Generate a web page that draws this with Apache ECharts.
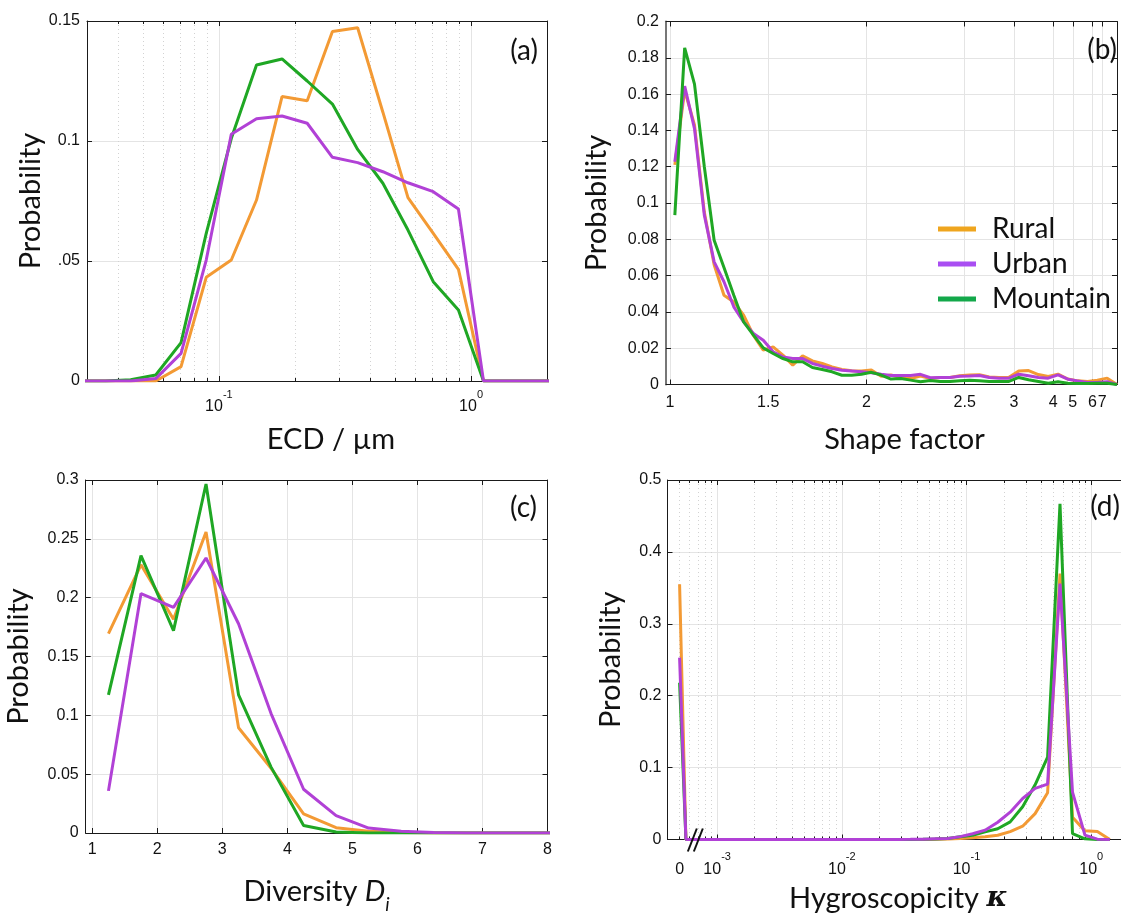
<!DOCTYPE html>
<html>
<head>
<meta charset="utf-8">
<script src="https://cdn.jsdelivr.net/npm/echarts@6/dist/echarts.min.js"></script>
<style>
  html, body { margin: 0; padding: 0; background: #fff; }
  #chart { width: 1121px; height: 915px; }
</style>
</head>
<body>
<div id="chart"></div>
<script>
// ---------------- data ----------------
const SITES = ['Rural', 'Urban', 'Mountain'];

// (a) equivalent circle diameter, log-bin centres in µm
const ECD_UM = [0.0282, 0.0355, 0.0447, 0.0562, 0.0708, 0.0891, 0.112, 0.141, 0.178, 0.224,
  0.282, 0.355, 0.447, 0.562, 0.708, 0.891, 1.12, 1.41, 1.78, 2.24];
const ECD_RURAL = [0, 0, 0, 0, 0.006, 0.0432, 0.0504, 0.0754, 0.1185, 0.1168,
  0.1456, 0.1472, 0.112, 0.0764, 0.0615, 0.0465, 0, 0, 0, 0];
const ECD_URBAN = [0, 0, 0, 0.001, 0.0115, 0.0504, 0.1028, 0.1093, 0.1104, 0.1074,
  0.0932, 0.091, 0.0872, 0.0826, 0.0789, 0.0717, 0, 0, 0, 0];
const ECD_MOUNTAIN = [0, 0, 0.0005, 0.0025, 0.016, 0.0615, 0.101, 0.1317, 0.1342, 0.125,
  0.1154, 0.0965, 0.0824, 0.0629, 0.0414, 0.0296, 0, 0, 0, 0];
const ECD_TICKS = [0.1, 1];

// (b) shape factor: 46 bins, drawn at equal width; tick labels sit on bin edges
const SHAPE_TICK_LABELS = ['1', '1.5', '2', '2.5', '3', '4', '5', '6', '7'];
const SHAPE_TICK_BIN = [0, 10, 20, 30, 35, 39, 41, 43, 44];
const SHAPE_RURAL = [0.121, 0.162, 0.143, 0.095, 0.066, 0.0492, 0.0455, 0.0382, 0.027, 0.0189,
  0.0207, 0.0162, 0.0107, 0.0158, 0.013, 0.0116, 0.0097, 0.0083, 0.0076, 0.0074,
  0.008, 0.0046, 0.0052, 0.0039, 0.0033, 0.0046, 0.0033, 0.0039, 0.0039, 0.0048,
  0.0052, 0.0054, 0.0042, 0.0038, 0.004, 0.0075, 0.0077, 0.0055, 0.0044, 0.0057,
  0.003, 0.002, 0.0017, 0.0024, 0.0035, 0];
const SHAPE_URBAN = [0.1227, 0.1644, 0.141, 0.0933, 0.0676, 0.0566, 0.0428, 0.0345, 0.0281, 0.0244,
  0.018, 0.0152, 0.0143, 0.0143, 0.0116, 0.0101, 0.0088, 0.0079, 0.0075, 0.007,
  0.0065, 0.0056, 0.005, 0.005, 0.005, 0.0056, 0.0037, 0.0039, 0.0039, 0.0045,
  0.0047, 0.005, 0.0039, 0.0035, 0.0035, 0.0057, 0.0048, 0.0039, 0.0035, 0.0053,
  0.0029, 0.002, 0.0011, 0.0011, 0.0015, 0];
const SHAPE_MOUNTAIN = [0.0933, 0.1855, 0.1655, 0.12, 0.0795, 0.0645, 0.0492, 0.0345, 0.0272, 0.0202,
  0.0171, 0.0143, 0.0125, 0.0125, 0.0094, 0.0083, 0.007, 0.0051, 0.0051, 0.0056,
  0.0067, 0.0052, 0.003, 0.0033, 0.0024, 0.0015, 0.0022, 0.0017, 0.0017, 0.0021,
  0.0024, 0.0021, 0.0017, 0.0017, 0.0017, 0.0039, 0.0026, 0.0017, 0.0007, 0.0015,
  0.0007, 0.0006, 0.0006, 0.0007, 0.0007, 0];

// (c) diversity
const DIVERSITY = [1.25, 1.75, 2.25, 2.75, 3.25, 3.75, 4.25, 4.75, 5.25, 5.75, 6.25, 6.75, 7.25, 7.75, 8.25];
const DIV_RURAL = [0.1694, 0.2279, 0.1817, 0.2558, 0.0895, 0.055, 0.0162, 0.0045, 0.0014, 0.0005, 0, 0, 0, 0, 0];
const DIV_URBAN = [0.0358, 0.2035, 0.1918, 0.2337, 0.1778, 0.1015, 0.0372, 0.0148, 0.0042, 0.0014, 0.0005, 0, 0, 0, 0];
const DIV_MOUNTAIN = [0.1174, 0.2357, 0.172, 0.2966, 0.1174, 0.056, 0.0064, 0.0008, 0, 0, 0, 0, 0, 0, 0];
const DIVERSITY_TICKS = [1, 2, 3, 4, 5, 6, 7, 8];

// (d) hygroscopicity kappa: a kappa = 0 bin, then log bins
const KAPPA_ZERO_AT = 5e-4;   // where the kappa = 0 bin is drawn on the broken axis
const KAPPA_BREAK_AT = 6.75e-4;
const KAPPA_ZERO_RURAL = 0.355, KAPPA_ZERO_URBAN = 0.253, KAPPA_ZERO_MOUNTAIN = 0.218;
const KAPPA = [5.62e-4, 7.08e-4, 8.91e-4, 1.12e-3, 1.41e-3, 1.78e-3, 2.24e-3, 2.82e-3, 3.55e-3,
  4.47e-3, 5.62e-3, 7.08e-3, 8.91e-3, 0.0112, 0.0141, 0.0178, 0.0224, 0.0282,
  0.0355, 0.0447, 0.0562, 0.0708, 0.0891, 0.112, 0.141, 0.178, 0.224, 0.282,
  0.355, 0.447, 0.562, 0.708, 0.891, 1.12, 1.41];
const KAPPA_RURAL = [0, 0, 0, 0, 0, 0, 0, 0, 0, 0, 0, 0, 0, 0, 0, 0, 0, 0,
  0, 0, 0.0003, 0.0007, 0.0014, 0.0023, 0.0037, 0.006, 0.011, 0.0185, 0.036, 0.065, 0.37, 0.031, 0.012, 0.011, 0];
const KAPPA_URBAN = [0, 0, 0, 0, 0, 0, 0, 0, 0, 0, 0, 0, 0, 0, 0, 0, 0, 0,
  0.0002, 0.0005, 0.001, 0.0015, 0.004, 0.008, 0.013, 0.024, 0.038, 0.057, 0.071, 0.077, 0.356, 0.066, 0.006, 0.0005, 0];
const KAPPA_MOUNTAIN = [0, 0, 0, 0, 0, 0, 0, 0, 0, 0, 0, 0, 0, 0, 0, 0, 0, 0,
  0, 0.0003, 0.0007, 0.0014, 0.0037, 0.006, 0.0106, 0.015, 0.0245, 0.0456, 0.076, 0.1146, 0.467, 0.0083, 0.001, 0, 0];
const KAPPA_TICKS = [0.001, 0.01, 0.1, 1];

// ---------------- styling ----------------
const LINE_COLORS = { Rural: '#F39A34', Urban: '#B141D6', Mountain: '#1FA724' };
const LEGEND_COLORS = { Rural: '#EFA51E', Urban: '#A94EF2', Mountain: '#13A84A' };
const TICK_FONT = '"Liberation Sans", Arial, sans-serif';
const TITLE_FONT = 'Lato, "Open Sans", sans-serif';
const AXIS_COLOR = '#1a1a1a';
const GRID_COLOR = '#E4E4E4';
const MINOR_COLOR = '#D2D2D2';

const TICK_RICH = {
  b: { fontFamily: TICK_FONT, fontSize: 16, color: '#111', lineHeight: 26, verticalAlign: 'bottom' },
  sup: { fontFamily: TICK_FONT, fontSize: 11, color: '#111', verticalAlign: 'top' }
};
const NAME_RICH = {
  it: { fontFamily: TITLE_FONT, fontSize: 29, fontStyle: 'italic', color: '#111' },
  sub: { fontFamily: TITLE_FONT, fontSize: 19, fontStyle: 'italic', color: '#111', verticalAlign: 'bottom', padding: [0, 0, -8, 0] },
  kap: { fontFamily: '"DejaVu Serif", serif', fontSize: 28, fontStyle: 'italic', fontWeight: 'bold', color: '#111' }
};

const log10 = Math.log10;
function minorLogs(fromExp, toExp) {
  const out = [];
  for (let e = fromExp; e <= toExp; e++) {
    for (let m = 2; m <= 9; m++) out.push(log10(m * Math.pow(10, e)));
  }
  return out;
}
function powLabel(v) {
  if (Math.abs(v - log10(KAPPA_ZERO_AT)) < 1e-6) return '{b|0}';
  return '{b|10}{sup|' + Math.round(v) + '}';
}

const xAxisList = [];
const yAxisList = [];

function addX(gi, o) {
  const idx = xAxisList.length;
  const base = { gridIndex: gi, type: 'value', min: o.min, max: o.max };
  const line = { show: true, onZero: false, lineStyle: { color: AXIS_COLOR, width: 1 } };
  const tick = { show: true, inside: true, length: 5, customValues: o.ticks, lineStyle: { color: AXIS_COLOR } };
  xAxisList.push({
    ...base, position: 'bottom',
    name: o.name, nameLocation: 'middle', nameGap: o.nameGap,
    nameTextStyle: { fontFamily: TITLE_FONT, fontSize: 29, color: '#111', rich: NAME_RICH, padding: o.namePad || 0 },
    axisLine: line, axisTick: tick,
    axisLabel: {
      show: true, customValues: o.labels || o.ticks, margin: o.margin, formatter: o.formatter,
      fontFamily: TICK_FONT, fontSize: 16, color: '#111', rich: TICK_RICH
    },
    splitLine: { show: true, lineStyle: { color: GRID_COLOR, width: 1 } }
  });
  xAxisList.push({
    ...base, position: 'top', axisLine: line, axisTick: tick,
    axisLabel: { show: false }, splitLine: { show: false }
  });
  if (o.minor) {
    const mtick = { show: true, inside: true, length: 3, customValues: o.minor, lineStyle: { color: AXIS_COLOR } };
    xAxisList.push({
      ...base, position: 'bottom', axisLine: { show: false, onZero: false }, axisTick: mtick,
      axisLabel: { show: false },
      splitLine: { show: true, lineStyle: { color: MINOR_COLOR, width: 1, type: [1, 3] } }
    });
    xAxisList.push({
      ...base, position: 'top', axisLine: { show: false, onZero: false }, axisTick: mtick,
      axisLabel: { show: false }, splitLine: { show: false }
    });
  }
  return idx;
}

function addY(gi, o) {
  const idx = yAxisList.length;
  const base = { gridIndex: gi, type: 'value', min: o.min, max: o.max, interval: o.interval };
  const tick = { show: true, inside: true, length: 5, lineStyle: { color: AXIS_COLOR } };
  yAxisList.push({
    ...base, position: 'left',
    name: 'Probability', nameLocation: 'middle', nameGap: o.nameGap,
    nameTextStyle: { fontFamily: TITLE_FONT, fontSize: 29, color: '#111' },
    axisLine: { show: true, onZero: false, lineStyle: { color: o.lineColor || AXIS_COLOR, width: o.lineWidth || 1 } },
    axisTick: tick,
    axisLabel: { show: true, margin: o.margin, formatter: o.formatter, fontFamily: TICK_FONT, fontSize: 16, color: '#111' },
    splitLine: { show: true, lineStyle: { color: GRID_COLOR, width: 1 } }
  });
  yAxisList.push({
    ...base, position: 'right',
    axisLine: { show: !o.noRight, onZero: false, lineStyle: { color: AXIS_COLOR, width: 1 } },
    axisTick: { ...tick, show: !o.noRight }, axisLabel: { show: false }, splitLine: { show: false }
  });
  return idx;
}

const grids = [
  { left: 87, top: 21, width: 460, height: 360 },          // (a)
  { left: 666, top: 21.5, width: 451, height: 363 },       // (b)
  { left: 85.7, top: 480, width: 461.8, height: 357.7 },   // (c)
  { left: 667.5, top: 480, width: 453.5, height: 359.5 }   // (d) cut at the right edge
];

// (a)
const axA = addX(0, {
  min: log10(0.03), max: log10(2), ticks: ECD_TICKS.map(log10), formatter: powLabel,
  minor: minorLogs(-2, -1), margin: 8, name: 'ECD / µm', nameGap: 44, namePad: [0, 0, 0, 28]
});
const ayA = addY(0, {
  min: 0, max: 0.15, interval: 0.05, margin: 7, nameGap: 41,
  formatter: v => (Math.abs(v - 0.05) < 1e-9 ? '.05' : String(+v.toFixed(2)))
});
// (b)
const axB = addX(1, {
  min: -0.4, max: 45.5, ticks: SHAPE_TICK_BIN, margin: 10,
  formatter: v => SHAPE_TICK_LABELS[SHAPE_TICK_BIN.indexOf(Math.round(v))],
  name: 'Shape factor', nameGap: 41, namePad: [0, 0, 0, 26]
});
const ayB = addY(1, { min: 0, max: 0.2, interval: 0.02, margin: 7, nameGap: 55, lineColor: '#777', lineWidth: 2 });
// (c)
const axC = addX(2, {
  min: 0.9, max: 8, ticks: DIVERSITY_TICKS, margin: 9,
  name: 'Diversity {it|D}{sub|i}', nameGap: 44
});
const ayC = addY(2, { min: 0, max: 0.3, interval: 0.05, margin: 7, nameGap: 53 });
// (d)
const axD = addX(3, {
  min: log10(4e-4), max: 0.239, ticks: KAPPA_TICKS.map(log10),
  labels: [log10(KAPPA_ZERO_AT)].concat(KAPPA_TICKS.map(log10)), formatter: powLabel,
  minor: minorLogs(-4, -1).filter(v => v > log10(4.5e-4)), margin: 12,
  name: 'Hygroscopicity {kap|κ}', nameGap: 45, namePad: [0, 0, 0, 8]
});
const ayD = addY(3, { min: 0, max: 0.5, interval: 0.1, margin: 6, nameGap: 42, noRight: true });

function lineSeries(name, xi, yi, data) {
  return {
    type: 'line', name: name, xAxisIndex: xi, yAxisIndex: yi, data: data,
    showSymbol: false, symbol: 'none', clip: true, animation: false,
    lineStyle: { width: 3, color: LINE_COLORS[name] }, itemStyle: { color: LINE_COLORS[name] },
    emphasis: { disabled: true }
  };
}
const pairs = (xs, ys) => xs.map((x, i) => [x, ys[i]]);
const ecdData = ys => pairs(ECD_UM.map(log10), ys);
const shapeData = ys => ys.map((y, i) => [i + 0.5, y]);
const kappaData = (zero, ys) => [[log10(KAPPA_ZERO_AT), zero]].concat(pairs(KAPPA.map(log10), ys));

const series = [
  lineSeries('Rural', axA, ayA, ecdData(ECD_RURAL)),
  lineSeries('Mountain', axA, ayA, ecdData(ECD_MOUNTAIN)),
  lineSeries('Urban', axA, ayA, ecdData(ECD_URBAN)),

  lineSeries('Rural', axB, ayB, shapeData(SHAPE_RURAL)),
  lineSeries('Urban', axB, ayB, shapeData(SHAPE_URBAN)),
  lineSeries('Mountain', axB, ayB, shapeData(SHAPE_MOUNTAIN)),

  lineSeries('Rural', axC, ayC, pairs(DIVERSITY, DIV_RURAL)),
  lineSeries('Mountain', axC, ayC, pairs(DIVERSITY, DIV_MOUNTAIN)),
  lineSeries('Urban', axC, ayC, pairs(DIVERSITY, DIV_URBAN)),

  lineSeries('Rural', axD, ayD, kappaData(KAPPA_ZERO_RURAL, KAPPA_RURAL)),
  lineSeries('Mountain', axD, ayD, kappaData(KAPPA_ZERO_MOUNTAIN, KAPPA_MOUNTAIN)),
  lineSeries('Urban', axD, ayD, kappaData(KAPPA_ZERO_URBAN, KAPPA_URBAN))
];

const panelText = (text, x, y) => ({
  type: 'text', x: x, y: y, z: 100,
  style: { text: text, fill: '#111', font: '28px ' + TITLE_FONT, align: 'right', verticalAlign: 'middle' }
});
const panelLabels = [
  panelText('(a)', 538, 51),
  panelText('(b)', 1117, 50),
  panelText('(c)', 537, 508),
  panelText('(d)', 1120, 507)
];

const chart = echarts.init(document.getElementById('chart'), null, { renderer: 'canvas' });
chart.setOption({
  animation: false,
  backgroundColor: '#fff',
  grid: grids,
  xAxis: xAxisList,
  yAxis: yAxisList,
  legend: {
    data: SITES.map(n => ({ name: n, itemStyle: { color: LEGEND_COLORS[n] } })),
    orient: 'vertical', left: 933, top: 210, itemWidth: 38, itemHeight: 5, itemGap: 7,
    icon: 'rect',
    textStyle: { fontFamily: TITLE_FONT, fontSize: 28, color: '#111', padding: [0, 0, 0, 11] }
  },
  series: series,
  graphic: panelLabels
});

// axis break marker "//" on the kappa axis
const bp = chart.convertToPixel({ xAxisIndex: axD, yAxisIndex: ayD }, [log10(KAPPA_BREAK_AT), 0]);
chart.setOption({
  graphic: panelLabels.concat([
    { type: 'line', z: 100, shape: { x1: bp[0] - 8, y1: bp[1] + 12, x2: bp[0] + 1, y2: bp[1] - 11 }, style: { stroke: '#111', lineWidth: 2 } },
    { type: 'line', z: 100, shape: { x1: bp[0] - 2, y1: bp[1] + 12, x2: bp[0] + 7, y2: bp[1] - 11 }, style: { stroke: '#111', lineWidth: 2 } }
  ])
});
</script>
</body>
</html>
